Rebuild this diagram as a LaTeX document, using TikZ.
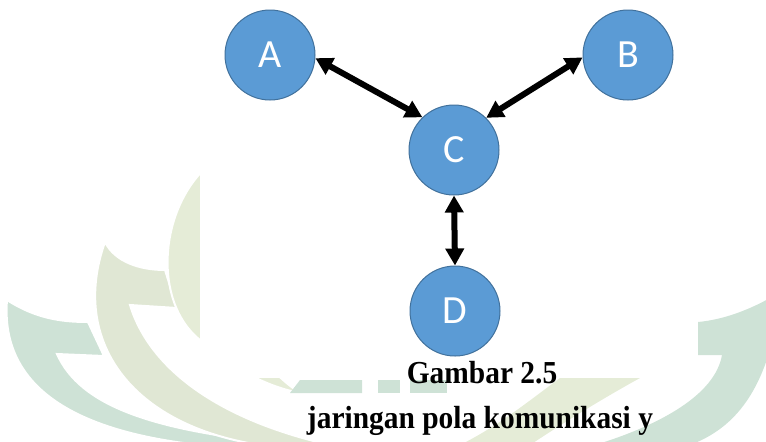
\documentclass[tikz,border=0pt]{standalone}
\usepackage{fontspec}
\setmainfont{Liberation Serif}
\newfontfamily\nodefont{Carlito}
\usepackage{xcolor}
\usepackage{graphicx}
\usepackage{tikz}
\usetikzlibrary{arrows.meta, positioning}
\definecolor{nodeblue}{RGB}{91,155,213}
\definecolor{nodeedge}{RGB}{65,113,156}
\definecolor{wmteal}{RGB}{206,226,214}
\definecolor{wmolive}{RGB}{224,231,212}
\definecolor{wmpale}{RGB}{229,236,215}

\begin{document}
\begin{tikzpicture}[x=0.5pt, y=-0.5pt,
  peer/.style={circle, draw=nodeedge, line width=0.5pt, fill=nodeblue,
               text=white, font=\nodefont\fontsize{20}{24}\selectfont,
               minimum size=45pt, inner sep=0pt},
  link/.style={{Triangle[length=8.5pt,width=9pt]}-{Triangle[length=8.5pt,width=9pt]},
               line width=3pt, black},
  caption/.style={font=\bfseries\fontsize{16}{19}\selectfont,
                  anchor=base, inner sep=0pt},
  wm/.style={draw=white, line width=1pt},
]
\useasboundingbox (0,0) rectangle (766,441);

% ── background watermark ──
\fill[wmteal, wm] (7,300) .. controls (35,318) and (60,322) .. (88,322)
  -- (104,356) -- (57,354) .. controls (80,405) and (150,432) .. (300,445)
  -- (200,445) .. controls (80,432) and (0,390) .. (7,300) -- cycle;
\fill[wmolive, wm] (105,242) .. controls (115,262) and (140,270) .. (165,270)
  -- (177,308) -- (130,305) .. controls (150,370) and (220,420) .. (330,445)
  -- (260,445) .. controls (130,425) and (70,340) .. (105,242) -- cycle;
\fill[wmpale, wm] (215,160) .. controls (160,200) and (150,300) .. (200,340)
  .. controls (230,365) and (260,385) .. (300,393)
  .. controls (250,360) and (200,280) .. (215,160) -- cycle;
\fill[wmteal] (290,393) -- (300,380) -- (362,380) -- (362,393) -- cycle;
\fill[wmteal] (378,380) rectangle (400,393);
\fill[wmteal] (410,380) rectangle (447,393);
\fill[wmpale] (560,378) -- (640,378) .. controls (600,400) and (560,425) .. (530,445)
  -- (460,445) .. controls (500,425) and (530,400) .. (560,378) -- cycle;
\fill[wmteal] (698,322) .. controls (720,320) and (745,312) .. (770,298)
  -- (770,350) .. controls (755,400) and (730,430) .. (690,445)
  -- (595,445) .. controls (660,425) and (715,395) .. (722,355)
  -- (698,355) -- cycle;
\fill[white] (200,0) rectangle (698,378);

% ── nodes ──
\node[peer] (A) at (270,55)  {A};
\node[peer] (B) at (628,55)  {B};
\node[peer] (C) at (454,150) {C};
\node[peer] (D) at (455,311) {D};
\foreach \a/\b in {A.-4/C.134, B.183/C.45, C.south/D.north}
  \draw[link] (\a) -- (\b);

% ── caption ──
\node[caption] (fig)   at (482,383) {\scalebox{0.92}[1]{Gambar 2.5}};
\node[caption] (title) at (480,428) {\scalebox{0.92}[1]{jaringan pola komunikasi y}};

\end{tikzpicture}
\end{document}
